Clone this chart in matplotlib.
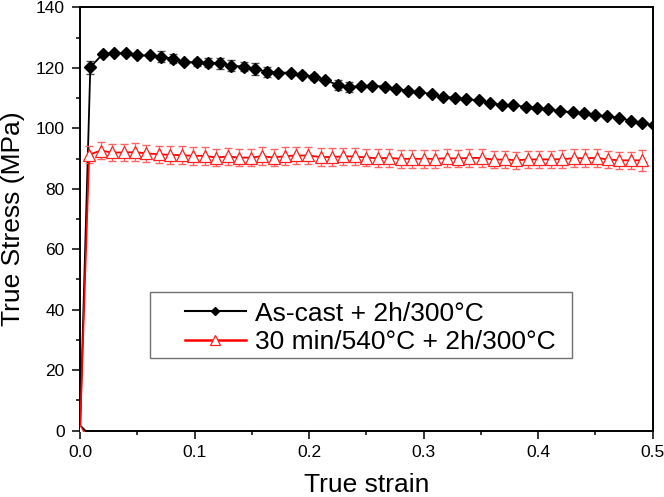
import matplotlib
matplotlib.use("Agg")
import matplotlib.pyplot as plt
from matplotlib.lines import Line2D
from matplotlib.patches import Rectangle

plt.rcParams['font.family'] = ['Liberation Sans', 'DejaVu Sans']

# ---- data ----
strain_cast = [0.0, 0.009, 0.020, 0.030, 0.040, 0.050, 0.061, 0.071, 0.081, 0.091, 0.102,
               0.112, 0.122, 0.132, 0.143, 0.153, 0.163, 0.173, 0.184, 0.194, 0.204,
               0.214, 0.225, 0.235, 0.245, 0.255, 0.266, 0.276, 0.286, 0.296, 0.307,
               0.317, 0.327, 0.337, 0.348, 0.358, 0.368, 0.378, 0.389, 0.399, 0.409,
               0.419, 0.430, 0.440, 0.450, 0.460, 0.471, 0.481, 0.491, 0.501]
stress_cast = [0.0, 120.2, 124.6, 124.8, 124.8, 124.1, 124.1, 123.7, 123.0, 121.9, 121.8,
               121.7, 121.5, 120.7, 120.4, 119.6, 118.7, 118.4, 118.4, 117.7, 117.1,
               116.0, 114.3, 113.6, 114.0, 114.1, 113.8, 113.0, 112.4, 112.0, 111.3,
               110.4, 110.1, 109.7, 109.2, 108.4, 107.7, 107.6, 107.1, 106.8, 106.3,
               105.7, 105.3, 105.0, 104.3, 104.0, 103.4, 102.5, 101.6, 101.1]
err_cast = [0.0, 2.1, 0.5, 0.4, 0.4, 0.6, 0.6, 1.8, 1.5, 0.8, 1.2,
            1.5, 1.8, 1.8, 1.5, 2.0, 1.6, 0.5, 0.5, 0.8, 1.0,
            0.6, 1.6, 1.6, 0.8, 0.3, 0.3, 0.3, 0.3, 0.3, 0.3,
            0.3, 0.3, 0.3, 0.3, 0.3, 0.3, 0.3, 0.3, 0.3, 0.3,
            0.3, 0.3, 0.3, 0.3, 0.3, 0.3, 0.3, 0.3, 0.3]

strain_sol = [0.0, 0.008, 0.018, 0.028, 0.038, 0.048, 0.058, 0.069, 0.079, 0.089, 0.099,
              0.109, 0.119, 0.129, 0.139, 0.149, 0.159, 0.169, 0.179, 0.189, 0.199,
              0.210, 0.220, 0.230, 0.240, 0.250, 0.260, 0.270, 0.280, 0.290, 0.300,
              0.310, 0.320, 0.330, 0.340, 0.351, 0.361, 0.371, 0.381, 0.391, 0.401,
              0.411, 0.421, 0.431, 0.441, 0.451, 0.461, 0.471, 0.481, 0.491]
stress_sol = [0.0, 91.3, 92.6, 92.0, 92.0, 92.1, 91.7, 91.4, 91.2, 91.1, 90.9,
              90.9, 90.3, 90.7, 90.3, 90.3, 90.8, 90.3, 90.8, 91.0, 91.0,
              90.5, 90.5, 90.7, 90.7, 90.3, 90.1, 90.2, 89.9, 89.9, 89.9,
              89.9, 90.1, 90.0, 90.2, 90.2, 89.6, 89.7, 89.4, 89.7, 89.7,
              89.7, 89.8, 90.1, 90.1, 90.2, 89.7, 89.4, 89.4, 89.4]
err_sol = [0.0] + [2.9] * 48 + [3.4]

labels = ["As-cast + 2h/300°C", "30 min/540°C + 2h/300°C"]
xticks = [0.0, 0.1, 0.2, 0.3, 0.4, 0.5]
yticks = [0, 20, 40, 60, 80, 100, 120, 140]

# ---- figure ----
fig = plt.figure(figsize=(6.64, 4.97), dpi=100)
ax = fig.add_axes([0.1205, 0.1334, 0.983 - 0.1205, 0.9853 - 0.1334])

ax.errorbar(strain_cast, stress_cast, yerr=err_cast, fmt='none', ecolor='#505050',
            elinewidth=1.0, capsize=2.8, capthick=1.0, zorder=2)
ax.plot(strain_cast, stress_cast, color='black', lw=1.3, marker='D', ms=6,
        mfc='black', mec='black', zorder=3)

ax.errorbar(strain_sol, stress_sol, yerr=err_sol, fmt='none', ecolor='#ff6464',
            elinewidth=0.9, capsize=3.0, capthick=1.0, zorder=4)
ax.plot(strain_sol, stress_sol, color='#ff0000', lw=1.3, marker='^', ms=8.3,
        mfc='white', mec='#ff2020', mew=0.9, zorder=5)

ax.set_xlim(0, 0.5)
ax.set_ylim(0, 140)
ax.set_xticks(xticks)
ax.set_xticklabels([f"{v:.1f}" for v in xticks])
ax.set_yticks(yticks)
ax.set_yticklabels([str(v) for v in yticks])
ax.set_xticks([0.05, 0.15, 0.25, 0.35, 0.45], minor=True)
ax.set_yticks([10, 30, 50, 70, 90, 110, 130], minor=True)
ax.tick_params(which='major', direction='out', length=6, width=1.1, labelsize=12.5,
               top=False, right=False)
ax.tick_params(axis='y', which='major', pad=5)
ax.tick_params(axis='x', which='major', pad=4)
ax.tick_params(which='minor', direction='out', length=3, width=1.1, top=False, right=False)
for s in ax.spines.values():
    s.set_linewidth(1.4)

ax.set_xlabel("True strain", fontsize=19, labelpad=10)
ax.set_ylabel("True Stress (MPa)", fontsize=19, labelpad=8)

# legend frame
ax.add_patch(Rectangle((0.1222, 0.171), 0.859 - 0.1222, 0.3283 - 0.171,
                       transform=ax.transAxes, fill=True, facecolor='white',
                       edgecolor='#707070', lw=1.0, zorder=6))
handles = [Line2D([], [], color='black', lw=1.5, marker='D', ms=4.5, mfc='black', mec='black'),
           Line2D([], [], color='#ff0000', lw=1.8, marker='^', ms=6.5, mfc='white', mec='#ff2020', mew=0.9)]
leg = ax.legend(handles, labels, loc='upper left', bbox_to_anchor=(0.183, 0.305),
                frameon=False, fontsize=19, handlelength=2.3, handletextpad=0.35,
                labelspacing=0.16, borderpad=0.0, borderaxespad=0.0)
leg.set_zorder(7)

fig.savefig("out.png", dpi=100)
